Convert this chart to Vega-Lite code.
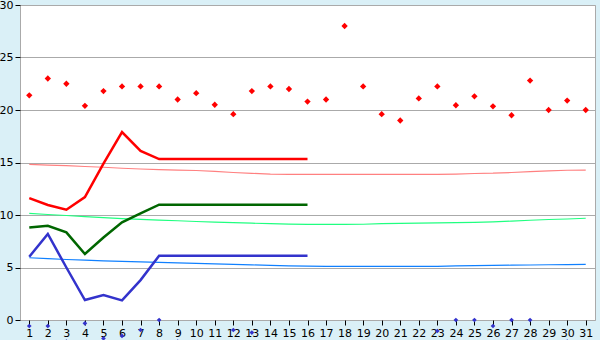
{
  "$schema": "https://vega.github.io/schema/vega-lite/v6.json",
  "autosize": "none",
  "width": 575,
  "height": 315,
  "padding": {"left": 20, "top": 5, "right": 5, "bottom": 20},
  "background": "#daf0f7",
  "config": {
    "view": {"fill": "white", "stroke": "#aaaaaa", "strokeWidth": 1},
    "font": "DejaVu Sans"
  },
  "resolve": {"scale": {"color": "independent"}},
  "datasets": {
    "light": [
      {"d":1,"s":"lr","v":14.83},{"d":2,"s":"lr","v":14.75},{"d":3,"s":"lr","v":14.7},{"d":4,"s":"lr","v":14.62},{"d":5,"s":"lr","v":14.55},{"d":6,"s":"lr","v":14.45},{"d":7,"s":"lr","v":14.38},{"d":8,"s":"lr","v":14.33},{"d":9,"s":"lr","v":14.28},{"d":10,"s":"lr","v":14.24},{"d":11,"s":"lr","v":14.15},{"d":12,"s":"lr","v":14.05},{"d":13,"s":"lr","v":13.97},{"d":14,"s":"lr","v":13.9},{"d":15,"s":"lr","v":13.87},{"d":16,"s":"lr","v":13.87},{"d":17,"s":"lr","v":13.87},{"d":18,"s":"lr","v":13.87},{"d":19,"s":"lr","v":13.87},{"d":20,"s":"lr","v":13.87},{"d":21,"s":"lr","v":13.87},{"d":22,"s":"lr","v":13.87},{"d":23,"s":"lr","v":13.87},{"d":24,"s":"lr","v":13.9},{"d":25,"s":"lr","v":13.95},{"d":26,"s":"lr","v":13.98},{"d":27,"s":"lr","v":14.05},{"d":28,"s":"lr","v":14.14},{"d":29,"s":"lr","v":14.2},{"d":30,"s":"lr","v":14.26},{"d":31,"s":"lr","v":14.28},
      {"d":1,"s":"lg","v":10.16},{"d":2,"s":"lg","v":10.05},{"d":3,"s":"lg","v":9.95},{"d":4,"s":"lg","v":9.85},{"d":5,"s":"lg","v":9.75},{"d":6,"s":"lg","v":9.65},{"d":7,"s":"lg","v":9.58},{"d":8,"s":"lg","v":9.52},{"d":9,"s":"lg","v":9.45},{"d":10,"s":"lg","v":9.38},{"d":11,"s":"lg","v":9.32},{"d":12,"s":"lg","v":9.27},{"d":13,"s":"lg","v":9.22},{"d":14,"s":"lg","v":9.18},{"d":15,"s":"lg","v":9.14},{"d":16,"s":"lg","v":9.11},{"d":17,"s":"lg","v":9.1},{"d":18,"s":"lg","v":9.1},{"d":19,"s":"lg","v":9.12},{"d":20,"s":"lg","v":9.17},{"d":21,"s":"lg","v":9.2},{"d":22,"s":"lg","v":9.22},{"d":23,"s":"lg","v":9.25},{"d":24,"s":"lg","v":9.28},{"d":25,"s":"lg","v":9.3},{"d":26,"s":"lg","v":9.35},{"d":27,"s":"lg","v":9.42},{"d":28,"s":"lg","v":9.5},{"d":29,"s":"lg","v":9.57},{"d":30,"s":"lg","v":9.62},{"d":31,"s":"lg","v":9.69},
      {"d":1,"s":"lb","v":5.93},{"d":2,"s":"lb","v":5.85},{"d":3,"s":"lb","v":5.76},{"d":4,"s":"lb","v":5.7},{"d":5,"s":"lb","v":5.64},{"d":6,"s":"lb","v":5.59},{"d":7,"s":"lb","v":5.53},{"d":8,"s":"lb","v":5.48},{"d":9,"s":"lb","v":5.44},{"d":10,"s":"lb","v":5.4},{"d":11,"s":"lb","v":5.35},{"d":12,"s":"lb","v":5.3},{"d":13,"s":"lb","v":5.25},{"d":14,"s":"lb","v":5.2},{"d":15,"s":"lb","v":5.16},{"d":16,"s":"lb","v":5.13},{"d":17,"s":"lb","v":5.11},{"d":18,"s":"lb","v":5.11},{"d":19,"s":"lb","v":5.11},{"d":20,"s":"lb","v":5.11},{"d":21,"s":"lb","v":5.11},{"d":22,"s":"lb","v":5.11},{"d":23,"s":"lb","v":5.11},{"d":24,"s":"lb","v":5.15},{"d":25,"s":"lb","v":5.18},{"d":26,"s":"lb","v":5.2},{"d":27,"s":"lb","v":5.22},{"d":28,"s":"lb","v":5.24},{"d":29,"s":"lb","v":5.26},{"d":30,"s":"lb","v":5.28},{"d":31,"s":"lb","v":5.3}
    ],
    "thick": [
      {"d":1,"s":"r","v":11.6},{"d":2,"s":"r","v":10.95},{"d":3,"s":"r","v":10.5},{"d":4,"s":"r","v":11.7},{"d":5,"s":"r","v":14.9},{"d":6,"s":"r","v":17.9},{"d":7,"s":"r","v":16.1},{"d":8,"s":"r","v":15.33},{"d":9,"s":"r","v":15.33},{"d":10,"s":"r","v":15.33},{"d":11,"s":"r","v":15.33},{"d":12,"s":"r","v":15.33},{"d":13,"s":"r","v":15.33},{"d":14,"s":"r","v":15.33},{"d":15,"s":"r","v":15.33},{"d":16,"s":"r","v":15.33},
      {"d":1,"s":"g","v":8.8},{"d":2,"s":"g","v":8.98},{"d":3,"s":"g","v":8.35},{"d":4,"s":"g","v":6.29},{"d":5,"s":"g","v":7.85},{"d":6,"s":"g","v":9.3},{"d":7,"s":"g","v":10.15},{"d":8,"s":"g","v":10.98},{"d":9,"s":"g","v":10.98},{"d":10,"s":"g","v":10.98},{"d":11,"s":"g","v":10.98},{"d":12,"s":"g","v":10.98},{"d":13,"s":"g","v":10.98},{"d":14,"s":"g","v":10.98},{"d":15,"s":"g","v":10.98},{"d":16,"s":"g","v":10.98},
      {"d":1,"s":"b","v":6.03},{"d":2,"s":"b","v":8.19},{"d":3,"s":"b","v":5.0},{"d":4,"s":"b","v":1.9},{"d":5,"s":"b","v":2.38},{"d":6,"s":"b","v":1.87},{"d":7,"s":"b","v":3.8},{"d":8,"s":"b","v":6.12},{"d":9,"s":"b","v":6.12},{"d":10,"s":"b","v":6.12},{"d":11,"s":"b","v":6.12},{"d":12,"s":"b","v":6.12},{"d":13,"s":"b","v":6.12},{"d":14,"s":"b","v":6.12},{"d":15,"s":"b","v":6.12},{"d":16,"s":"b","v":6.12}
    ],
    "max": [
      {"d":1,"v":21.4},{"d":2,"v":23.0},{"d":3,"v":22.5},{"d":4,"v":20.4},{"d":5,"v":21.8},{"d":6,"v":22.25},{"d":7,"v":22.25},{"d":8,"v":22.25},{"d":9,"v":21.0},{"d":10,"v":21.6},{"d":11,"v":20.5},{"d":12,"v":19.6},{"d":13,"v":21.8},{"d":14,"v":22.25},{"d":15,"v":22.0},{"d":16,"v":20.8},{"d":17,"v":21.0},{"d":18,"v":28.0},{"d":19,"v":22.25},{"d":20,"v":19.6},{"d":21,"v":19.0},{"d":22,"v":21.1},{"d":23,"v":22.25},{"d":24,"v":20.45},{"d":25,"v":21.3},{"d":26,"v":20.35},{"d":27,"v":19.5},{"d":28,"v":22.8},{"d":29,"v":20.0},{"d":30,"v":20.9},{"d":31,"v":20.0}
    ],
    "low": [
      {"d":1,"v":-0.57},{"d":2,"v":-0.57},{"d":3,"v":-2.05},{"d":4,"v":-0.32},{"d":5,"v":-1.75},{"d":6,"v":-1.52},{"d":7,"v":-0.95},{"d":8,"v":0},{"d":9,"v":-2.05},{"d":12,"v":-0.95},{"d":13,"v":-1.2},{"d":23,"v":-1.05},{"d":24,"v":0},{"d":25,"v":0},{"d":26,"v":-0.57},{"d":27,"v":0},{"d":28,"v":0},{"d":30,"v":-2.05}
    ]
  },
  "encoding": {
    "x": {
      "field": "d", "type": "quantitative",
      "scale": {"domain": [0.5, 31.5], "nice": false, "zero": false},
      "axis": {
        "title": null, "grid": false, "domain": false,
        "values": [1,2,3,4,5,6,7,8,9,10,11,12,13,14,15,16,17,18,19,20,21,22,23,24,25,26,27,28,29,30,31],
        "tickColor": "black", "tickSize": 5, "labelFontSize": 11, "labelColor": "black",
        "labelPadding": 2, "labelFlush": false
      }
    },
    "y": {
      "field": "v", "type": "quantitative",
      "scale": {"domain": [0, 30], "nice": false, "zero": false},
      "axis": {
        "title": null, "values": [0,5,10,15,20,25,30], "grid": true, "gridColor": "#aaaaaa",
        "domain": false, "tickColor": "black", "tickSize": 5, "labelFontSize": 11,
        "labelColor": "black", "labelPadding": 2
      }
    }
  },
  "layer": [
    {
      "data": {"name": "light"},
      "mark": {"type": "line", "strokeWidth": 1.2},
      "encoding": {
        "color": {"field": "s", "type": "nominal", "legend": null,
          "scale": {"domain": ["lr","lg","lb"], "range": ["#ff8080","#20ff80","#1080ff"]}}
      }
    },
    {
      "data": {"name": "thick"},
      "mark": {"type": "line", "strokeWidth": 2.5},
      "encoding": {
        "color": {"field": "s", "type": "nominal", "legend": null,
          "scale": {"domain": ["r","g","b"], "range": ["#ff0000","#006600","#3333cc"]}}
      }
    },
    {
      "data": {"name": "max"},
      "mark": {"type": "point", "shape": "diamond", "filled": true, "color": "#ff0000", "size": 40, "opacity": 1}
    },
    {
      "data": {"name": "low"},
      "mark": {"type": "point", "shape": "diamond", "filled": true, "color": "#3333cc", "size": 22, "opacity": 1}
    }
  ]
}
